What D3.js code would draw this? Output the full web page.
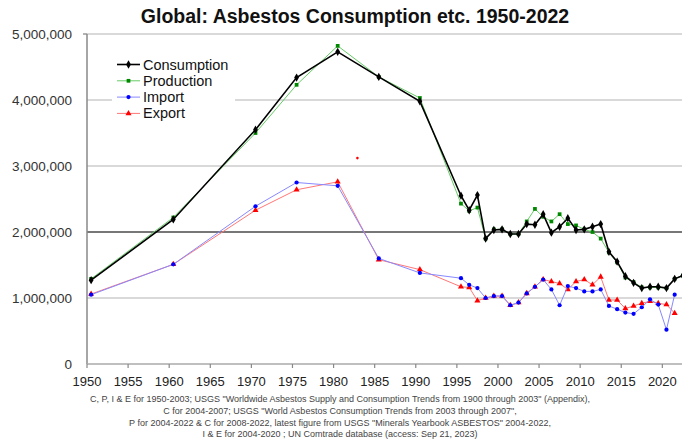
<!DOCTYPE html>
<html>
<head>
<meta charset="utf-8">
<script src="https://cdn.jsdelivr.net/npm/d3@7"></script>
<style>
  body { margin: 0; background: #fff; }
  svg { display: block; font-family: "Liberation Sans", Arial, sans-serif; }
</style>
</head>
<body>
<div id="chart"></div>
<script>
// values in millions of tonnes
var years = [1950, 1960, 1970, 1975, 1980, 1985, 1990,
    1995, 1996, 1997, 1998, 1999, 2000, 2001, 2002, 2003, 2004, 2005, 2006, 2007, 2008,
    2009, 2010, 2011, 2012, 2013, 2014, 2015, 2016, 2017, 2018, 2019, 2020, 2021, 2022];
var consumption = [1.27, 2.19, 3.55, 4.34, 4.73, 4.35, 3.98,
    2.55, 2.33, 2.56, 1.90, 2.03, 2.04, 1.97, 1.97, 2.12, 2.11, 2.27, 1.99, 2.08, 2.21,
    2.03, 2.04, 2.08, 2.12, 1.70, 1.55, 1.33, 1.23, 1.15, 1.17, 1.17, 1.15, 1.29, 1.34];
var production = [1.29, 2.22, 3.50, 4.23, 4.82, 4.35, 4.03,
    2.43, 2.32, 2.37, 1.90, 2.04, 2.04, 1.97, 1.97, 2.16, 2.35, 2.23, 2.16, 2.27, 2.12,
    2.10, 2.04, 2.00, 1.90, 1.69, 1.54, 1.31, 1.24, 1.16, 1.16, 1.16, 1.15, 1.29, 1.34];
// import / export run to 2021
var imports = [1.05, 1.51, 2.39, 2.75, 2.70, 1.60, 1.38,
    1.30, 1.20, 1.15, 1.00, 1.03, 1.03, 0.89, 0.93, 1.07, 1.17, 1.28, 1.13, 0.89, 1.18,
    1.15, 1.10, 1.10, 1.13, 0.88, 0.83, 0.78, 0.76, 0.86, 0.98, 0.90, 0.52, 1.05];
var exports = [1.06, 1.51, 2.33, 2.64, 2.76, 1.58, 1.43,
    1.17, 1.16, 0.96, 1.00, 1.03, 1.03, 0.89, 0.93, 1.07, 1.17, 1.28, 1.25, 1.22, 1.13,
    1.25, 1.28, 1.20, 1.32, 0.97, 0.97, 0.84, 0.88, 0.92, 0.95, 0.92, 0.90, 0.77];
var strayPoint = [1982.4, 3.12];

var yTicks = [0, 1e6, 2e6, 3e6, 4e6, 5e6];
var xTickLabels = [1950, 1955, 1960, 1965, 1970, 1975, 1980, 1985, 1990, 1995,
    2000, 2005, 2010, 2015, 2020];
var notes = [
    'C, P, I & E for 1950-2003; USGS "Worldwide Asbestos Supply and Consumption Trends from 1900 through 2003" (Appendix),',
    'C for 2004-2007; USGS "World Asbestos Consumption Trends from 2003 through 2007",',
    'P for 2004-2022 & C for 2008-2022, latest figure from USGS "Minerals Yearbook ASBESTOS" 2004-2022,',
    'I & E for 2004-2020 ; UN Comtrade database (access: Sep 21, 2023)'
];

var width = 682, height = 444;
var svg = d3.select("#chart").append("svg")
    .attr("width", width)
    .attr("height", height);

var x = d3.scaleLinear().domain([1949.5, 2022.5]).range([87, 687]);
var y = d3.scaleLinear().domain([0, 5e6]).range([364, 34]);

function toPts(vals) {
    return vals.map(function (v, i) { return [years[i], v * 1e6]; });
}

// title
svg.append("text")
    .attr("x", 355).attr("y", 23)
    .attr("text-anchor", "middle")
    .style("font-size", "19.5px").style("font-weight", "bold")
    .style("fill", "#111")
    .text("Global: Asbestos Consumption etc. 1950-2022");

// gridlines
svg.append("g").selectAll("line")
    .data(yTicks.slice(1))
    .enter().append("line")
    .attr("x1", 87).attr("x2", width)
    .attr("y1", function (d) { return y(d); })
    .attr("y2", function (d) { return y(d); })
    .attr("stroke", function (d) { return d == 2e6 ? "#777" : "#ccc"; })
    .attr("stroke-width", function (d) { return d == 2e6 ? 1.8 : 1.3; });

// y labels
svg.append("g").selectAll("text")
    .data(yTicks)
    .enter().append("text")
    .attr("x", 72)
    .attr("y", function (d) { return y(d) + 5; })
    .attr("text-anchor", "end")
    .style("font-size", "13.5px")
    .style("fill", "#333")
    .text(function (d) { return d3.format(",")(d); });

// axes lines
svg.append("line")
    .attr("x1", 87).attr("x2", 87).attr("y1", y(5e6)).attr("y2", y(0))
    .attr("stroke", "#888").attr("stroke-width", 1.5);
svg.append("line")
    .attr("x1", 83).attr("x2", 87).attr("y1", y(5e6)).attr("y2", y(5e6))
    .attr("stroke", "#888").attr("stroke-width", 1.3);
svg.append("line")
    .attr("x1", 87).attr("x2", width).attr("y1", y(0)).attr("y2", y(0))
    .attr("stroke", "#aaa").attr("stroke-width", 1.3);

// x ticks sit half a year before the label year (axis starts at 1949.5)
svg.append("g").selectAll("line")
    .data(xTickLabels)
    .enter().append("line")
    .attr("x1", function (d) { return x(d - 0.5); })
    .attr("x2", function (d) { return x(d - 0.5); })
    .attr("y1", y(0)).attr("y2", y(0) + 4)
    .attr("stroke", "#888").attr("stroke-width", 1.2);
svg.append("g").selectAll("text")
    .data(xTickLabels)
    .enter().append("text")
    .attr("x", function (d) { return x(d - 0.5); })
    .attr("y", 386)
    .attr("text-anchor", "middle")
    .style("font-size", "13px")
    .style("fill", "#222")
    .text(function (d) { return d; });

// footnotes
svg.append("g").selectAll("text")
    .data(notes)
    .enter().append("text")
    .attr("x", 340)
    .attr("y", function (d, i) { return 402 + i * 11.8; })
    .attr("text-anchor", "middle")
    .style("font-size", "9px")
    .style("fill", "#444")
    .text(function (d) { return d; });

var line = d3.line()
    .x(function (d) { return x(d[0]); })
    .y(function (d) { return y(d[1]); });

var series = [
    { name: "Consumption", vals: consumption, line: "#000", lw: 1.6, mark: "#000", sym: d3.symbolDiamond, size: 20 },
    { name: "Production", vals: production, line: "#6c6", lw: 1, mark: "#080", sym: d3.symbolSquare, size: 14 },
    { name: "Import", vals: imports, line: "#88f", lw: 1, mark: "#00f", sym: d3.symbolCircle, size: 14 },
    { name: "Export", vals: exports, line: "#f77", lw: 1, mark: "#f00", sym: d3.symbolTriangle, size: 16 }
];

var plot = svg.append("g");
// draw export/import first, consumption last on top
[3, 2, 1, 0].forEach(function (k) {
    var s = series[k];
    var pts = toPts(s.vals);
    plot.append("path")
        .datum(pts)
        .attr("d", line)
        .attr("fill", "none")
        .attr("stroke", s.line)
        .attr("stroke-width", s.lw);
    plot.selectAll(".m" + k)
        .data(pts)
        .enter().append("path")
        .attr("class", "m" + k)
        .attr("transform", function (d) { return "translate(" + x(d[0]) + "," + y(d[1]) + ")"; })
        .attr("d", d3.symbol().type(s.sym).size(s.size))
        .attr("fill", s.mark);
});

plot.append("circle")
    .attr("cx", x(strayPoint[0])).attr("cy", y(strayPoint[1] * 1e6))
    .attr("r", 1.3).attr("fill", "#f00");

// legend
var legend = svg.append("g");
legend.append("rect")
    .attr("x", 112).attr("y", 52).attr("width", 123).attr("height", 70)
    .attr("fill", "#fff");
series.forEach(function (s, i) {
    var ly = 64.5 + i * 16.3;
    legend.append("line")
        .attr("x1", 117).attr("x2", 140).attr("y1", ly).attr("y2", ly)
        .attr("stroke", s.line).attr("stroke-width", s.lw);
    legend.append("path")
        .attr("transform", "translate(128.5," + ly + ")")
        .attr("d", d3.symbol().type(s.sym).size(s.size))
        .attr("fill", s.mark);
    legend.append("text")
        .attr("x", 143).attr("y", ly + 5)
        .style("font-size", "14.5px")
        .style("fill", "#111")
        .text(s.name);
});
</script>
</body>
</html>
